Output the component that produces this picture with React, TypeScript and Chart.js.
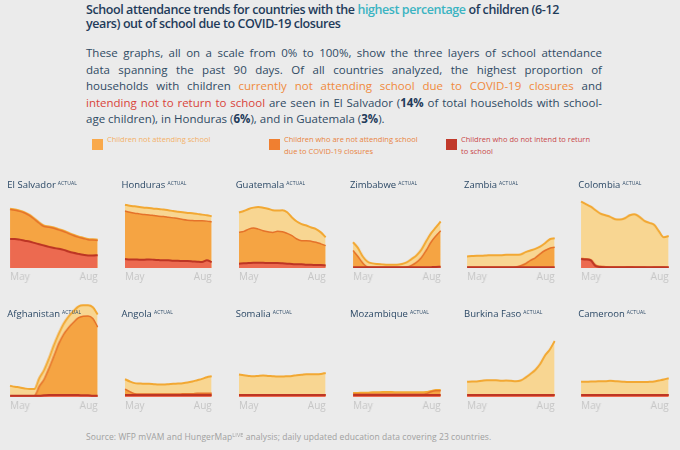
import React, { useEffect, useRef } from 'react';
import { Chart, registerables } from 'chart.js';

Chart.register(...registerables);

// ---------- DATA ----------
const dayLabels = ['May 8', 'May 13', 'May 18', 'May 23', 'May 28', 'Jun 2', 'Jun 7', 'Jun 12', 'Jun 17', 'Jun 22', 'Jun 27', 'Jul 2', 'Jul 7', 'Jul 12', 'Jul 17', 'Jul 22', 'Jul 27', 'Aug 1', 'Aug 6'];
const tickLabels = ['May', 'Aug'];

const countries = ['El Salvador', 'Honduras', 'Guatemala', 'Zimbabwe', 'Zambia', 'Colombia', 'Afghanistan', 'Angola', 'Somalia', 'Mozambique', 'Burkina Faso', 'Cameroon'];

const seriesLabels = ['Children not attending school', 'Children who are not attending school due to COVID-19 closures', 'Children who do not intend to return to school'];

// El Salvador
const esNotAttending = [63.8, 62.8, 61.7, 59.9, 57.1, 53.2, 48.9, 45.4, 44.7, 43.6, 41.8, 40.1, 37.9, 35.8, 34.0, 32.6, 31.2, 30.9, 30.5];
const esCovid = [63.0, 62.0, 60.9, 59.1, 56.3, 52.4, 48.1, 44.6, 43.9, 42.8, 41.0, 39.3, 37.1, 35.0, 33.2, 31.8, 30.4, 30.1, 29.7];
const esNoReturn = [31.2, 31.2, 30.5, 29.4, 28.4, 27.0, 25.5, 24.1, 22.7, 21.6, 20.6, 19.5, 17.7, 16.3, 15.2, 14.2, 13.5, 13.5, 13.8];
// Honduras
const hnNotAttending = [68.1, 67.0, 66.3, 65.6, 64.9, 64.5, 63.8, 63.5, 62.8, 62.1, 61.3, 60.6, 59.9, 59.2, 58.9, 58.2, 57.4, 56.7, 55.7];
const hnCovid = [61.3, 59.9, 58.9, 58.2, 57.4, 57.1, 56.4, 55.7, 55.3, 54.6, 53.9, 53.2, 52.1, 51.4, 51.1, 50.7, 50.7, 50.4, 49.6];
const hnNoReturn = [9.6, 9.2, 9.2, 8.9, 8.9, 9.2, 8.9, 8.5, 8.2, 8.2, 7.8, 7.8, 7.4, 7.4, 7.1, 6.7, 6.4, 8.2, 6.4];
// Guatemala
const gtNotAttending = [59.6, 61.3, 63.5, 64.9, 65.6, 64.9, 63.8, 62.1, 61.7, 62.1, 59.9, 54.3, 50.0, 47.2, 45.7, 43.6, 41.8, 38.3, 33.0];
const gtCovid = [38.3, 39.4, 41.8, 42.9, 41.8, 40.1, 39.0, 38.3, 39.4, 39.0, 37.2, 34.8, 31.2, 29.4, 29.4, 28.7, 27.7, 25.9, 24.1];
const gtNoReturn = [4.6, 5.0, 5.3, 5.7, 5.7, 5.7, 5.3, 5.3, 5.3, 5.0, 4.6, 4.3, 3.9, 3.9, 3.5, 3.5, 3.2, 3.2, 2.8];
// Zimbabwe
const zwNotAttending = [27.7, 21.6, 12.4, 6.7, 5.0, 4.3, 3.9, 3.5, 3.5, 3.5, 4.3, 6.0, 9.6, 13.5, 19.5, 28.7, 37.2, 43.6, 50.0];
const zwCovid = [18.8, 12.4, 5.3, 1.1, 0.7, 0.7, 0.7, 0.7, 0.7, 0.7, 0.7, 1.1, 2.8, 6.0, 11.0, 18.8, 27.7, 34.4, 40.1];
const zwNoReturn = [0.7, 0.7, 0.7, 0.7, 0.7, 0.7, 0.7, 0.7, 0.7, 0.7, 0.7, 0.7, 0.7, 0.7, 0.7, 0.7, 0.9, 1.1, 1.4];
// Zambia
const zmNotAttending = [12.4, 12.8, 13.1, 13.1, 13.5, 13.8, 13.8, 13.8, 14.2, 14.2, 14.2, 14.5, 17.0, 18.8, 20.6, 23.0, 26.6, 30.9, 31.9];
const zmCovid = [0.7, 0.7, 0.7, 0.7, 0.7, 0.7, 0.7, 0.7, 0.7, 0.7, 1.1, 2.5, 4.6, 8.2, 11.0, 15.2, 18.8, 21.3, 22.3];
const zmNoReturn = [0.7, 0.7, 0.7, 0.7, 0.7, 0.7, 0.7, 0.7, 0.7, 0.7, 0.7, 0.7, 0.7, 0.7, 0.7, 0.7, 0.7, 0.7, 0.7];
// Colombia
const coNotAttending = [71.3, 68.8, 66.0, 62.1, 58.5, 56.7, 55.0, 52.5, 52.1, 53.5, 56.7, 57.8, 55.0, 50.7, 48.6, 46.5, 39.4, 33.0, 34.4];
const coCovid = [10.3, 9.9, 8.9, 3.0, 1.8, 1.4, 1.1, 1.1, 1.1, 1.1, 1.4, 1.1, 1.1, 1.1, 0.7, 1.1, 1.1, 1.1, 0.7];
const coNoReturn = [9.6, 9.2, 8.2, 2.0, 1.1, 0.7, 0.7, 0.7, 0.7, 0.7, 0.7, 0.7, 0.7, 0.7, 0.7, 0.7, 0.7, 0.7, 0.7];
// Afghanistan
const afNotAttending = [12.1, 11.0, 10.3, 9.2, 8.5, 8.5, 20.2, 29.1, 41.5, 55.7, 68.1, 78.7, 86.5, 92.2, 97.2, 98.6, 98.6, 96.5, 88.7];
const afCovid = [1.4, 1.4, 1.4, 1.4, 1.4, 1.4, 11.3, 19.1, 30.9, 44.0, 57.4, 67.4, 74.5, 80.1, 85.1, 86.9, 87.2, 84.4, 75.2];
const afNoReturn = [1.4, 1.4, 1.4, 1.4, 1.4, 1.4, 1.4, 1.8, 2.1, 2.1, 2.1, 2.1, 2.1, 2.1, 2.1, 1.8, 1.8, 1.4, 1.4];
// Angola
const aoNotAttending = [19.1, 16.7, 14.9, 14.5, 14.2, 14.2, 13.8, 13.5, 13.5, 13.8, 14.2, 14.5, 14.9, 15.6, 16.7, 18.1, 19.5, 21.3, 22.3];
const aoCovid = [8.5, 5.7, 3.5, 3.2, 3.2, 3.2, 3.2, 3.2, 3.2, 3.2, 3.2, 3.2, 3.5, 3.5, 3.5, 3.9, 3.9, 3.9, 3.9];
const aoNoReturn = [2.1, 2.1, 2.1, 2.1, 2.1, 2.1, 2.1, 2.1, 2.1, 2.1, 2.1, 2.1, 2.1, 2.1, 2.1, 2.1, 2.1, 2.1, 2.1];
// Somalia
const soNotAttending = [24.1, 23.4, 22.7, 22.3, 22.7, 23.0, 22.7, 22.3, 22.0, 22.0, 22.3, 22.7, 23.4, 23.8, 24.5, 24.5, 24.5, 24.8, 25.9];
const soCovid = [2.5, 2.5, 2.5, 2.5, 2.5, 2.5, 2.5, 2.5, 2.5, 2.5, 2.5, 2.5, 2.5, 2.5, 2.5, 2.5, 2.5, 2.5, 2.5];
const soNoReturn = [2.1, 2.1, 2.1, 2.1, 2.1, 2.1, 2.1, 2.1, 2.1, 2.1, 2.1, 2.1, 2.1, 2.1, 2.1, 2.1, 2.1, 2.1, 2.1];
// Mozambique
const mzNotAttending = [4.3, 4.3, 4.6, 4.6, 5.0, 5.0, 5.3, 5.3, 5.3, 5.0, 5.0, 5.0, 5.0, 5.0, 5.0, 5.3, 6.4, 7.4, 7.4];
const mzCovid = [3.2, 3.2, 3.2, 3.2, 3.2, 3.2, 3.2, 3.2, 3.2, 3.2, 3.2, 3.2, 3.2, 3.2, 3.2, 3.5, 5.7, 6.7, 6.7];
const mzNoReturn = [2.1, 2.1, 2.1, 2.1, 2.1, 2.1, 2.1, 2.1, 2.1, 2.1, 2.1, 2.1, 2.1, 2.1, 2.1, 2.1, 2.1, 2.1, 2.1];
// Burkina Faso
const bfNotAttending = [16.3, 16.7, 16.7, 17.4, 18.1, 18.1, 18.1, 17.4, 17.7, 17.4, 17.0, 17.7, 20.9, 24.8, 29.1, 35.5, 44.7, 51.1, 60.3];
const bfCovid = [2.5, 2.5, 2.5, 2.5, 2.5, 2.5, 2.5, 2.5, 2.5, 2.5, 2.5, 2.5, 2.5, 2.5, 2.5, 2.5, 2.5, 2.5, 2.5];
const bfNoReturn = [2.1, 2.1, 2.1, 2.1, 2.1, 2.1, 2.1, 2.1, 2.1, 2.1, 2.1, 2.1, 2.1, 2.1, 2.1, 2.1, 2.1, 2.1, 2.1];
// Cameroon
const cmNotAttending = [16.3, 16.3, 16.7, 16.7, 17.0, 17.0, 17.4, 17.0, 16.7, 16.3, 16.0, 16.0, 16.0, 16.0, 16.3, 16.7, 17.7, 18.8, 20.2];
const cmCovid = [2.5, 2.5, 2.5, 2.5, 2.5, 2.5, 2.5, 2.5, 2.5, 2.5, 2.5, 2.5, 2.5, 2.5, 2.5, 2.5, 2.5, 2.5, 2.5];
const cmNoReturn = [2.1, 2.1, 2.1, 2.1, 2.1, 2.1, 2.1, 2.1, 2.1, 2.1, 2.1, 2.1, 2.1, 2.1, 2.1, 2.1, 2.1, 2.1, 2.1];

const notAttendingSeries = [esNotAttending, hnNotAttending, gtNotAttending, zwNotAttending, zmNotAttending, coNotAttending, afNotAttending, aoNotAttending, soNotAttending, mzNotAttending, bfNotAttending, cmNotAttending];
const covidSeries = [esCovid, hnCovid, gtCovid, zwCovid, zmCovid, coCovid, afCovid, aoCovid, soCovid, mzCovid, bfCovid, cmCovid];
const noReturnSeries = [esNoReturn, hnNoReturn, gtNoReturn, zwNoReturn, zmNoReturn, coNoReturn, afNoReturn, aoNoReturn, soNoReturn, mzNoReturn, bfNoReturn, cmNoReturn];

// ---------- STYLE ----------
const BG = '#ebebeb';
const PALE_FILL = '#f8d692';
const PALE_LINE = '#f2a833';
const ORANGE_FILL = '#f5a443';
const ORANGE_LINE = '#e5722a';
const RED_FILL = '#ec6a50';
const RED_LINE = '#bd3524';
const NAVY = '#1f3b5a';
const FONT = '"Open Sans", "Noto Sans", sans-serif';

const PLOT_W = 92.7;
const PLOT_H = 94;
const AXIS_PAD = 3;
const AXIS_FONT = 10;
const AXIS_H = AXIS_FONT * 1.2 + AXIS_PAD * 2;
const COL_X0 = 7.3;
const COL_STEP = 114.2;
const ROW_BASELINES = [267.7, 397.3];
const ROW_TITLE_CENTERS = [185, 314];

type PanelProps = {
  name: string;
  notAttending: number[];
  covid: number[];
  noReturn: number[];
  left: number;
  baseline: number;
  titleCenter: number;
};

function Panel({ name, notAttending, covid, noReturn, left, baseline, titleCenter }: PanelProps) {
  const ref = useRef<HTMLCanvasElement>(null);
  useEffect(() => {
    if (!ref.current) return;
    const common = { pointRadius: 0, fill: 'origin', cubicInterpolationMode: 'monotone' as const };
    const chart = new Chart(ref.current, {
      type: 'line',
      data: {
        labels: dayLabels,
        datasets: [
          { ...common, label: seriesLabels[2], data: noReturn, borderColor: RED_LINE, backgroundColor: RED_FILL, borderWidth: 2 },
          { ...common, label: seriesLabels[1], data: covid, borderColor: ORANGE_LINE, backgroundColor: ORANGE_FILL, borderWidth: 1.5 },
          { ...common, label: seriesLabels[0], data: notAttending, borderColor: PALE_LINE, backgroundColor: PALE_FILL, borderWidth: 2 },
        ],
      },
      options: {
        animation: false,
        responsive: true,
        maintainAspectRatio: false,
        events: [],
        layout: { padding: 0 },
        plugins: { legend: { display: false }, tooltip: { enabled: false } },
        scales: {
          x: {
            grid: { display: false, drawTicks: false },
            border: { display: false },
            ticks: {
              autoSkip: false,
              maxRotation: 0,
              minRotation: 0,
              align: 'inner',
              padding: AXIS_PAD,
              color: '#c6c6c6',
              font: { family: FONT, size: AXIS_FONT },
              callback: (_v: any, i: number, ticks: any[]) => (i === 0 ? tickLabels[0] : i === ticks.length - 1 ? tickLabels[1] : ''),
            },
          },
          y: { display: false, min: 0, max: 100 },
        },
      },
    } as any);
    return () => chart.destroy();
  }, []);
  return (
    <>
      <div style={{ position: 'absolute', left, top: baseline - PLOT_H, width: PLOT_W, height: PLOT_H + AXIS_H }}>
        <canvas ref={ref} />
      </div>
      <div
        style={{
          position: 'absolute',
          left,
          top: titleCenter - 7,
          height: 14,
          lineHeight: '14px',
          fontFamily: FONT,
          fontSize: 9.5,
          color: '#2b4865',
          whiteSpace: 'nowrap',
        }}
      >
        {name}
        <span style={{ fontSize: 5, position: 'relative', top: -3.5, marginLeft: 2, letterSpacing: 0.1 }}>ACTUAL</span>
      </div>
    </>
  );
}

const bodyLine: React.CSSProperties = { textAlign: 'justify', textAlignLast: 'justify', whiteSpace: 'nowrap', height: 16.5 };

export default function App() {
  useEffect(() => {
    document.body.style.margin = '0';
    document.body.style.background = BG;
  }, []);
  const orange = '#f08a3c';
  const red = '#d9443a';
  const legendItems = [
    { x: 92, color: '#f9a94b', text: '#f3b067', lines: ['Children not attending school'] },
    { x: 269, color: '#f07f30', text: '#e9843f', lines: ['Children who are not attending school', 'due to COVID-19 closures'] },
    { x: 446, color: '#c1392b', text: '#c9474a', lines: ['Children who do not intend to return', 'to school'] },
  ];
  return (
    <div style={{ position: 'fixed', left: 0, top: 0, width: 680, height: 450, background: BG, overflow: 'hidden', fontFamily: FONT }}>
      <div
        style={{
          position: 'absolute',
          left: 86,
          top: 3,
          fontSize: 12.5,
          fontWeight: 600,
          lineHeight: '14px',
          color: NAVY,
          whiteSpace: 'nowrap',
          letterSpacing: -0.42,
        }}
      >
        School attendance trends for countries with the <span style={{ color: '#3bb4c2' }}>highest percentage</span> of children (6-12
        <br />
        years) out of school due to COVID-19 closures
      </div>
      <div style={{ position: 'absolute', left: 86, top: 45, width: 516, fontSize: 11.5, lineHeight: '16.5px', color: '#2f4a63' }}>
        <div style={bodyLine}>These graphs, all on a scale from 0% to 100%, show the three layers of school attendance</div>
        <div style={bodyLine}>data spanning the past 90 days. Of all countries analyzed, the highest proportion of</div>
        <div style={bodyLine}>
          households with children <span style={{ color: orange }}>currently not attending school due to COVID-19 closures</span> and
        </div>
        <div style={bodyLine}>
          <span style={{ color: red }}>intending not to return to school</span> are seen in El Salvador (<b style={{ color: NAVY }}>14%</b> of total households with school-
        </div>
        <div style={{ whiteSpace: 'nowrap', height: 16.5 }}>
          age children), in Honduras (<b style={{ color: NAVY }}>6%</b>), and in Guatemala (<b style={{ color: NAVY }}>3%</b>).
        </div>
      </div>
      {legendItems.map((it) => (
        <React.Fragment key={it.x}>
          <div style={{ position: 'absolute', left: it.x, top: 139, width: 11, height: 11, background: it.color }} />
          <div style={{ position: 'absolute', left: it.x + 15, top: 134.2, fontSize: 7.5, lineHeight: '11.7px', color: it.text, whiteSpace: 'nowrap' }}>
            {it.lines.map((l) => (
              <div key={l}>{l}</div>
            ))}
          </div>
        </React.Fragment>
      ))}
      {countries.map((name, i) => {
        const row = Math.floor(i / 6);
        const col = i % 6;
        return (
          <Panel
            key={name}
            name={name}
            notAttending={notAttendingSeries[i]}
            covid={covidSeries[i]}
            noReturn={noReturnSeries[i]}
            left={COL_X0 + COL_STEP * col}
            baseline={ROW_BASELINES[row]}
            titleCenter={ROW_TITLE_CENTERS[row]}
          />
        );
      })}
      <div style={{ position: 'absolute', left: 86, top: 431, fontSize: 8.5, lineHeight: '12px', color: '#a0a0a0', whiteSpace: 'nowrap', letterSpacing: 0.08 }}>
        Source: WFP mVAM and HungerMap<span style={{ fontSize: 5.5, position: 'relative', top: -3 }}>LIVE</span> analysis; daily updated education data covering 23 countries.
      </div>
    </div>
  );
}
